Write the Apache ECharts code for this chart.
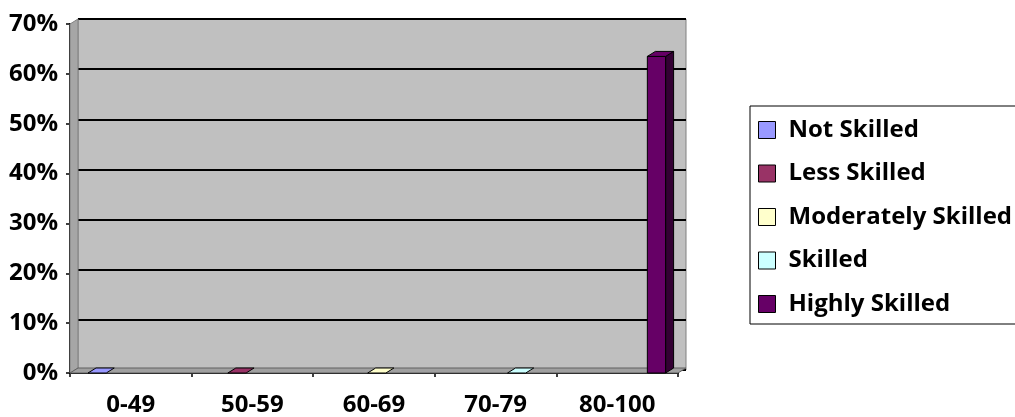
<!DOCTYPE html>
<html>
<head>
<meta charset="utf-8">
<title>Skill levels</title>
<script src="https://cdn.jsdelivr.net/npm/echarts@6/dist/echarts.min.js"></script>
<style>
    html, body { margin: 0; padding: 0; background: #fff; }
    #main { width: 1015px; height: 417px; }
</style>
</head>
<body>
<div id="main"></div>
<script>
// data (percent)
var categories = ['0-49', '50-59', '60-69', '70-79', '80-100'];
var seriesNames = ['Not Skilled', 'Less Skilled', 'Moderately Skilled', 'Skilled', 'Highly Skilled'];
var notSkilled = [0, null, null, null, null];
var lessSkilled = [null, 0, null, null, null];
var moderatelySkilled = [null, null, 0, null, null];
var skilled = [null, null, null, 0, null];
var highlySkilled = [null, null, null, null, 63.5];
var yTickLabels = ['0%', '10%', '20%', '30%', '40%', '50%', '60%', '70%'];

var allValues = [notSkilled, lessSkilled, moderatelySkilled, skilled, highlySkilled];
var colors = ['#9999ff', '#993366', '#ffffcc', '#ccffff', '#660066'];
var sideColors = ['#5c5c99', '#5c1f3d', '#99997a', '#7a9999', '#330033'];

var Y_MAX = 70, Y_STEP = 10;
var DX = 8, DY = -5;   // 3d depth
var FONT = { fontFamily: 'Open Sans', fontWeight: 'bold', fontSize: 24, color: '#000' };

var myChart = echarts.init(document.getElementById('main'));

function makeBarRenderer(k) {
    return function (params, api) {
        var v = api.value(1);
        if (v == null || isNaN(v)) return;
        var band = api.size([1, 0])[0];
        var w = band * 0.15;
        var c = api.coord([api.value(0), v]);
        var b = api.coord([api.value(0), 0]);
        var l = c[0] - band / 2 + band * 0.148 + k * w;
        var r = l + w;
        var top = c[1], base = b[1];
        var line = { stroke: '#000', lineWidth: 1 };
        var kids = [];
        if (base - top > 0.5) {
            kids.push({ type: 'polygon', shape: { points: [[r, top], [r + DX, top + DY], [r + DX, base + DY], [r, base]] },
                style: Object.assign({ fill: sideColors[k] }, line) });
            kids.push({ type: 'rect', shape: { x: l, y: top, width: w, height: base - top },
                style: Object.assign({ fill: colors[k] }, line) });
        }
        kids.push({ type: 'polygon', shape: { points: [[l, top], [r, top], [r + DX, top + DY], [l + DX, top + DY]] },
            style: Object.assign({ fill: colors[k] }, line) });
        return { type: 'group', children: kids };
    };
}

function renderWalls(params, api) {
    var band = api.size([1, 0])[0];
    var p0 = api.coord([0, 0]);
    var p1 = api.coord([categories.length - 1, Y_MAX]);
    var x0 = p0[0] - band / 2, x1 = p1[0] + band / 2;
    var yTop = p1[1], yBase = p0[1];
    return {
        type: 'group',
        children: [
            { type: 'polygon', shape: { points: [[x0, yTop], [x0 + DX, yTop + DY], [x0 + DX, yBase + DY], [x0, yBase]] },
              style: { fill: '#a6a6a6', stroke: '#808080', lineWidth: 1 } },
            { type: 'polygon', shape: { points: [[x0, yBase], [x1, yBase], [x1 + DX, yBase + DY], [x0 + DX, yBase + DY]] },
              style: { fill: '#a0a0a0', stroke: '#606060', lineWidth: 1 } }
        ]
    };
}

var series = allValues.map(function (vals, k) {
    var data = [];
    vals.forEach(function (v, i) { if (v !== null) data.push([i, v]); });
    return {
        name: seriesNames[k],
        type: 'custom',
        xAxisIndex: 0,
        yAxisIndex: 0,
        z: 3,
        itemStyle: { color: colors[k], borderColor: '#000', borderWidth: 1 },
        renderItem: makeBarRenderer(k),
        data: data
    };
});
series.push({
    name: 'walls',
    type: 'custom',
    xAxisIndex: 0,
    yAxisIndex: 0,
    z: 1,
    silent: true,
    renderItem: renderWalls,
    data: [[0, 0]]
});

var option = {
    animation: false,
    grid: [
        { left: 70, top: 24, width: 608, height: 351 },
        { left: 78, top: 19, width: 608, height: 351, show: true, backgroundColor: '#c0c0c0', borderColor: '#808080', borderWidth: 1 }
    ],
    xAxis: [
        {
            type: 'category', gridIndex: 0, data: categories,
            axisLine: { lineStyle: { color: '#000', width: 2 } },
            axisTick: { show: true, length: 4, alignWithLabel: false, lineStyle: { color: '#000', width: 1.5 } },
            axisLabel: Object.assign({ margin: 20 }, FONT),
            splitLine: { show: false }
        },
        { type: 'category', gridIndex: 1, data: categories, show: false }
    ],
    yAxis: [
        {
            type: 'value', gridIndex: 0, min: 0, max: Y_MAX, interval: Y_STEP,
            axisLine: { show: true, lineStyle: { color: '#000', width: 2 } },
            axisTick: { show: true, length: 4, lineStyle: { color: '#000', width: 1.5 } },
            axisLabel: Object.assign({ margin: 12, formatter: function (v) { return yTickLabels[v / Y_STEP]; } }, FONT),
            splitLine: { show: false }
        },
        {
            type: 'value', gridIndex: 1, min: 0, max: Y_MAX, interval: Y_STEP,
            axisLine: { show: false }, axisTick: { show: false }, axisLabel: { show: false },
            splitLine: { show: true, lineStyle: { color: '#000', width: 2 } }
        }
    ],
    legend: {
        data: seriesNames,
        orient: 'vertical',
        left: 750,
        top: 106,
        padding: [12, 30, 8, 8],
        itemGap: 19.5,
        itemWidth: 17,
        itemHeight: 17,
        icon: 'rect',
        itemStyle: { borderColor: '#000', borderWidth: 1 },
        borderColor: '#000',
        borderWidth: 1,
        selectedMode: false,
        textStyle: Object.assign({ lineHeight: 24, padding: [0, 0, 0, 8] }, FONT)
    },
    series: series
};

myChart.setOption(option);
</script>
</body>
</html>
